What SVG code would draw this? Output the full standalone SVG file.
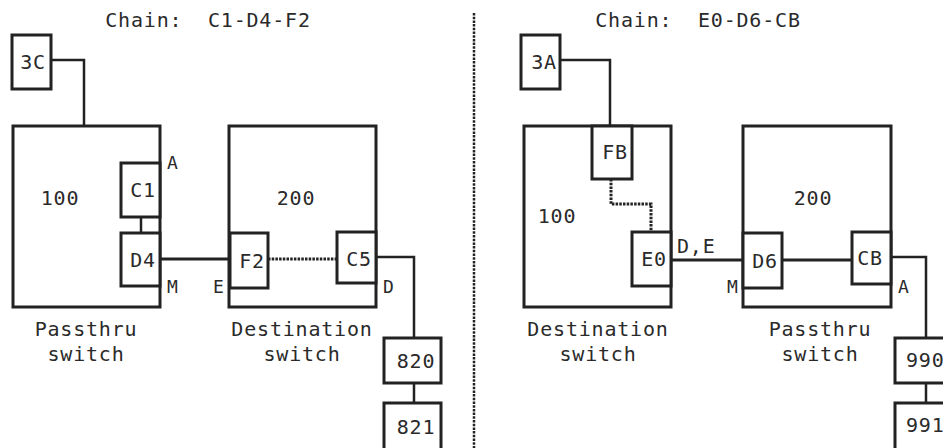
<svg xmlns="http://www.w3.org/2000/svg" width="943" height="448" viewBox="0 0 943 448">
<style>
.b{fill:none;stroke:#222;stroke-width:3}
.s{fill:#fff;stroke:#222;stroke-width:3}
.l{fill:none;stroke:#222;stroke-width:2.5}
.d{fill:none;stroke:#222;stroke-width:3;stroke-dasharray:2.5 1.2}
.sep{fill:none;stroke:#222;stroke-width:2.5;stroke-dasharray:2.5 1.2}
text{font-family:"DejaVu Sans Mono","Liberation Mono",monospace;font-size:20px;letter-spacing:0.8px;fill:#2a2a2a}
.m{text-anchor:middle}
.sm{font-size:18px}
</style>
<rect width="943" height="448" fill="#fff"/>

<g id="connectors">
<polyline class="l" points="51,60 84,60 84,126"/>
<line class="l" x1="141" y1="217" x2="141" y2="233"/>
<line class="b" x1="160" y1="259" x2="229" y2="259"/>
<line class="d" x1="268" y1="259" x2="337" y2="259"/>
<polyline class="l" points="376,257 414,257 414,338"/>
<line class="l" x1="414" y1="383" x2="414" y2="403"/>
<polyline class="l" points="560,60 610,60 610,126"/>
<polyline class="d" points="611,179 611,204 651,204 651,232"/>
<line class="b" x1="671" y1="260" x2="743" y2="260"/>
<line class="b" x1="782" y1="260" x2="852" y2="260"/>
<polyline class="l" points="891,257 926,257 926,338"/>
<line class="l" x1="926" y1="383" x2="926" y2="403"/>
<line class="sep" x1="474" y1="13" x2="474" y2="448"/>
</g>

<g id="title-left"><text x="208" y="27" class="m" xml:space="preserve">Chain:  C1-D4-F2</text></g>
<g id="title-right"><text x="698" y="27" class="m" xml:space="preserve">Chain:  E0-D6-CB</text></g>

<g id="n3C"><rect class="s" x="12" y="35" width="39" height="54"/><text x="33" y="69" class="m">3C</text></g>

<g id="sw100L">
<rect class="b" x="13" y="126" width="147" height="181"/>
<text x="60" y="205" class="m">100</text>
<text x="86" y="336" class="m">Passthru</text>
<text x="86" y="361" class="m">switch</text>
<text x="167" y="169" class="sm">A</text>
<text x="167" y="293" class="sm">M</text>
</g>
<g id="nC1"><rect class="s" x="121" y="163" width="39" height="54"/><text x="143" y="197" class="m">C1</text></g>
<g id="nD4"><rect class="s" x="121" y="233" width="39" height="53"/><text x="143" y="267" class="m">D4</text></g>

<g id="sw200L">
<rect class="b" x="229" y="126" width="147" height="181"/>
<text x="296" y="205" class="m">200</text>
<text x="302" y="336" class="m">Destination</text>
<text x="302" y="361" class="m">switch</text>
<text x="213" y="293" class="sm">E</text>
<text x="383" y="293" class="sm">D</text>
</g>
<g id="nF2"><rect class="s" x="230" y="233" width="38" height="55"/><text x="252" y="268" class="m">F2</text></g>
<g id="nC5"><rect class="s" x="337" y="232" width="39" height="51"/><text x="359" y="266" class="m">C5</text></g>

<g id="n820"><rect class="s" x="384" y="338" width="57" height="45"/><text x="416" y="368" class="m">820</text></g>
<g id="n821"><rect class="s" x="384" y="403" width="57" height="50"/><text x="416" y="434" class="m">821</text></g>

<g id="n3A"><rect class="s" x="521" y="35" width="39" height="54"/><text x="544" y="69" class="m">3A</text></g>

<g id="sw100R">
<rect class="b" x="524" y="126" width="147" height="181"/>
<text x="557" y="223" class="m">100</text>
<text x="598" y="336" class="m">Destination</text>
<text x="598" y="361" class="m">switch</text>
<text x="677" y="253">D,E</text>
</g>
<g id="nFB"><rect class="s" x="592" y="126" width="40" height="53"/><text x="615" y="159" class="m">FB</text></g>
<g id="nE0"><rect class="s" x="632" y="232" width="39" height="54"/><text x="654" y="266" class="m">E0</text></g>

<g id="sw200R">
<rect class="b" x="743" y="126" width="148" height="181"/>
<text x="813" y="205" class="m">200</text>
<text x="820" y="336" class="m">Passthru</text>
<text x="820" y="361" class="m">switch</text>
<text x="727" y="293" class="sm">M</text>
<text x="898" y="293" class="sm">A</text>
</g>
<g id="nD6"><rect class="s" x="743" y="233" width="39" height="55"/><text x="765" y="268" class="m">D6</text></g>
<g id="nCB"><rect class="s" x="852" y="232" width="39" height="52"/><text x="870" y="265" class="m">CB</text></g>

<g id="n990"><rect class="s" x="895" y="338" width="57" height="45"/><text x="906" y="367">990</text></g>
<g id="n991"><rect class="s" x="895" y="403" width="57" height="50"/><text x="906" y="432">991</text></g>
</svg>
